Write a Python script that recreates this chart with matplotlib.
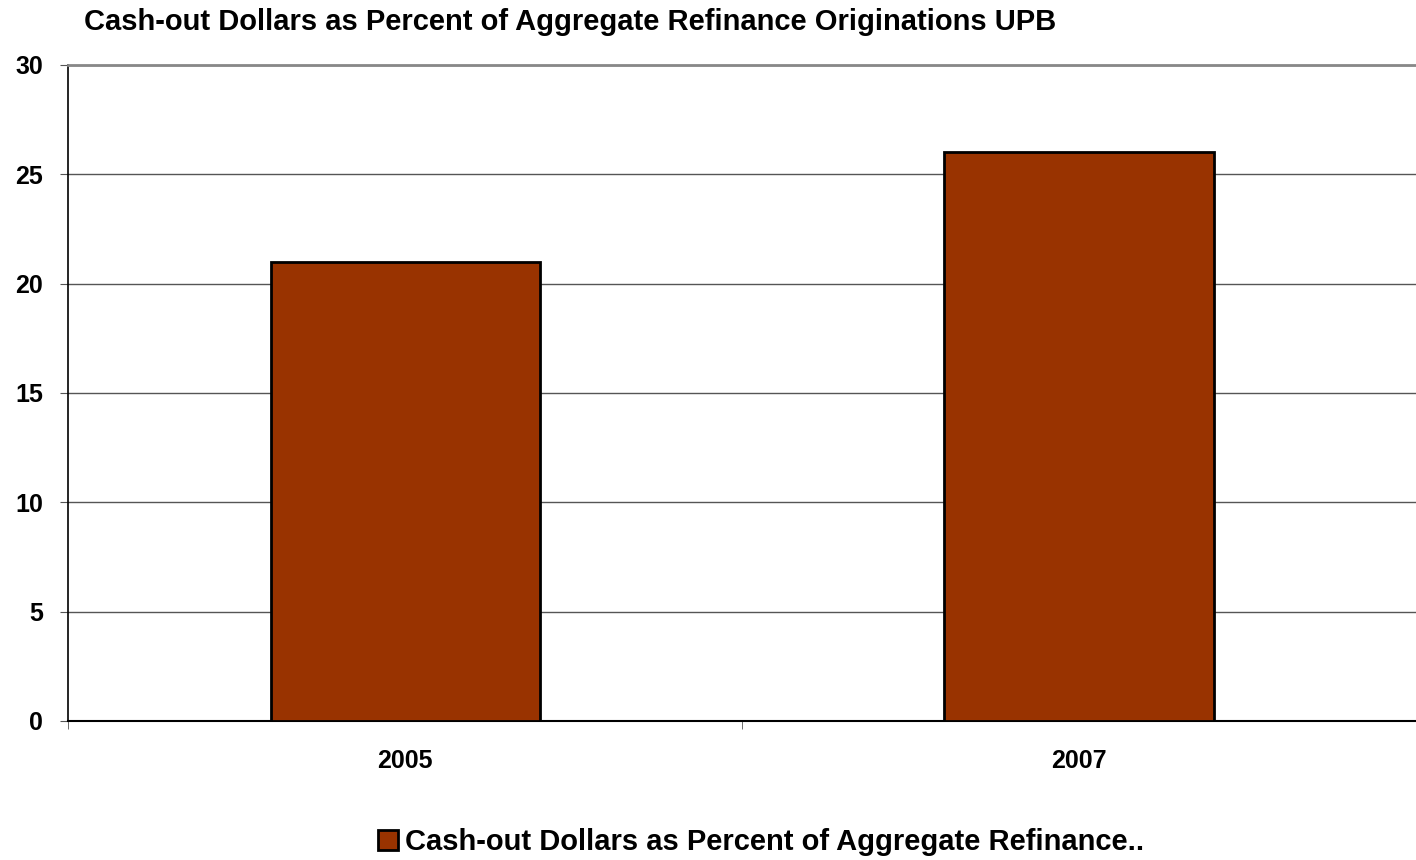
import matplotlib.pyplot as plt
from matplotlib.patches import Patch

plt.rcParams['font.family'] = ['Liberation Sans', 'DejaVu Sans']
plt.rcParams['font.weight'] = 'bold'

# Data
years = ['2005', '2007']
cashout_pct = [21, 26]
series_name = 'Cash-out Dollars as Percent of Aggregate Refinance..'
title = 'Cash-out Dollars as Percent of Aggregate Refinance Originations UPB'
bar_color = '#993300'

fig = plt.figure(figsize=(14.16, 8.6), dpi=100)
ax = fig.add_axes([68 / 1416, 139 / 860, 1 - 68 / 1416, (721 - 65) / 860])

x = range(len(years))
ax.bar(x, cashout_pct, width=0.40, color=bar_color, edgecolor='black', linewidth=2, zorder=3)

ax.set_ylim(0, 30)
ax.set_xlim(-0.5007, 1.482)
ax.set_yticks(range(0, 31, 5))
ax.yaxis.grid(True, color='#555555', linewidth=1, zorder=0)
ax.set_axisbelow(True)

ax.set_xticks(list(x))
ax.set_xticklabels(years, fontsize=18, fontweight='bold')
ax.tick_params(axis='x', length=0, pad=20)
ax.set_xticks([-0.5, 0.5, 1.5], minor=True)
ax.tick_params(axis='x', which='minor', length=6, color='#555555')
ax.tick_params(axis='y', length=6, color='#555555', labelsize=18, pad=12)
for lbl in ax.get_yticklabels():
    lbl.set_fontweight('bold')

ax.spines['right'].set_visible(False)
ax.spines['top'].set_color('#888888')
ax.spines['top'].set_linewidth(2)
ax.spines['left'].set_color('black')
ax.spines['left'].set_linewidth(1.2)
ax.spines['bottom'].set_color('black')
ax.spines['bottom'].set_linewidth(1.5)

fig.text(84 / 1416, 1 - 22 / 860, title, fontsize=21, fontweight='bold', va='center', ha='left')

handle = Patch(facecolor=bar_color, edgecolor='black', linewidth=2)
fig.legend([handle], [series_name], loc='center', bbox_to_anchor=(761 / 1416, 1 - 842 / 860),
           frameon=False, handlelength=0.7, handleheight=0.7, handletextpad=0.25,
           prop={'weight': 'bold', 'size': 21})

fig.savefig('out.png', dpi=100)
